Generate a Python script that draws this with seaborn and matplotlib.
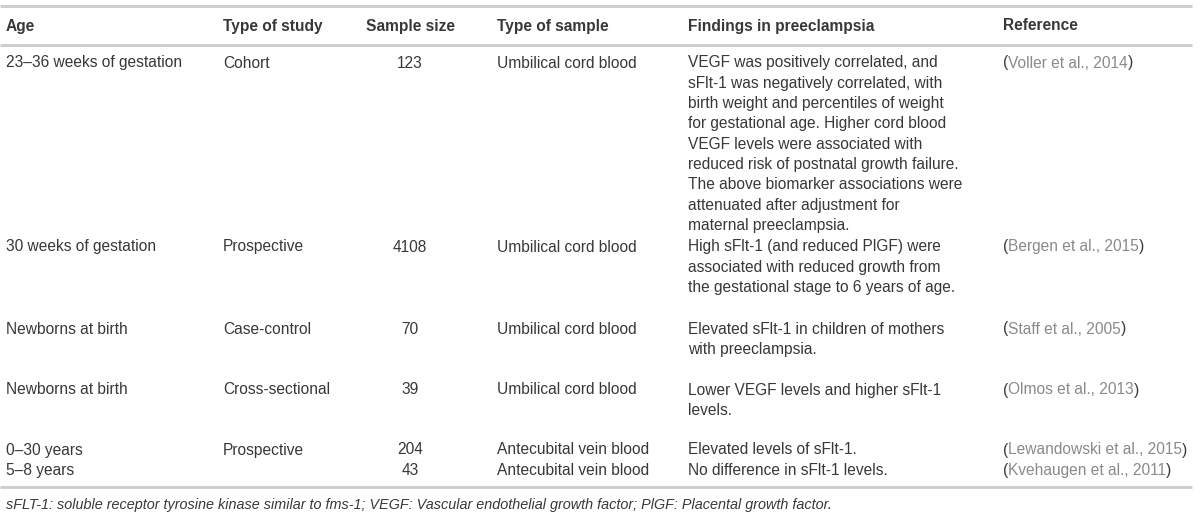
import seaborn as sns
import matplotlib.pyplot as plt

headers = ["Age", "Type of study", "Sample size", "Type of sample", "Findings in preeclampsia", "Reference"]

ages = ["23–36 weeks of gestation", "30 weeks of gestation", "Newborns at birth",
        "Newborns at birth", "0–30 years", "5–8 years"]
study_types = ["Cohort", "Prospective", "Case-control", "Cross-sectional", "Prospective", ""]
sample_sizes = ["123", "4108", "70", "39", "204", "43"]
sample_types = ["Umbilical cord blood", "Umbilical cord blood", "Umbilical cord blood",
                "Umbilical cord blood", "Antecubital vein blood", "Antecubital vein blood"]
findings = [
    ["VEGF was positively correlated, and",
     "sFlt-1 was negatively correlated, with",
     "birth weight and percentiles of weight",
     "for gestational age. Higher cord blood",
     "VEGF levels were associated with",
     "reduced risk of postnatal growth failure.",
     "The above biomarker associations were",
     "attenuated after adjustment for",
     "maternal preeclampsia."],
    ["High sFlt-1 (and reduced PlGF) were",
     "associated with reduced growth from",
     "the gestational stage to 6 years of age."],
    ["Elevated sFlt-1 in children of mothers",
     "with preeclampsia."],
    ["Lower VEGF levels and higher sFlt-1",
     "levels."],
    ["Elevated levels of sFlt-1."],
    ["No difference in sFlt-1 levels."],
]
ref_names = ["Voller et al., 2014", "Bergen et al., 2015", "Staff et al., 2005",
             "Olmos et al., 2013", "Lewandowski et al., 2015", "Kvehaugen et al., 2011"]
footnote = ("sFLT-1: soluble receptor tyrosine kinase similar to fms-1; "
            "VEGF: Vascular endothelial growth factor; PlGF: Placental growth factor.")

sns.set_theme(style="white")
plt.rcParams['font.family'] = ['Liberation Sans', 'DejaVu Sans']

TXT = "#383838"
LINK = "#8a8a8a"
RULE = "#cccccc"
FS = 11.2

fig = plt.figure(figsize=(12, 5.17), dpi=100)
ax = fig.add_axes([0, 0, 1, 1])
ax.set_xlim(0, 1200)
ax.set_ylim(517, 0)
ax.axis("off")

# layout in pixel units
col_x = [6, 223, 410, 497, 688, 1003]
row_y = [63, 247, 329, 390, 450, 470.5]
line_step = 20.3

for y in [6, 45, 487]:
    ax.plot([0, 1192], [y, y], color=RULE, lw=2, solid_capstyle="butt")

for i, h in enumerate(headers):
    ax.text(col_x[i], 26, h, ha="center" if i == 2 else "left", va="center",
            fontsize=FS, fontweight="bold", color=TXT)

fig.canvas.draw()
renderer = fig.canvas.get_renderer()

for r in range(len(ages)):
    y = row_y[r]
    ax.text(col_x[0], y, ages[r], va="center", fontsize=FS, color=TXT)
    ax.text(col_x[1], y, study_types[r], va="center", fontsize=FS, color=TXT)
    ax.text(col_x[2], y, sample_sizes[r], ha="center", va="center", fontsize=FS, color=TXT)
    ax.text(col_x[3], y, sample_types[r], va="center", fontsize=FS, color=TXT)
    for k, line in enumerate(findings[r]):
        ax.text(col_x[4], y + k * line_step, line, va="center", fontsize=FS, color=TXT)
    # reference cell: dark parentheses around a grey linked name
    x = col_x[5]
    for piece, c in [("(", TXT), (ref_names[r], LINK), (")", TXT)]:
        t = ax.text(x, y, piece, va="center", fontsize=FS, color=c)
        bb = t.get_window_extent(renderer=renderer)
        x += bb.width * 1200 / fig.bbox.width

ax.text(col_x[0], 505, footnote, va="center", fontsize=10.4, style="italic", color=TXT)

fig.savefig("out.png", dpi=100)
